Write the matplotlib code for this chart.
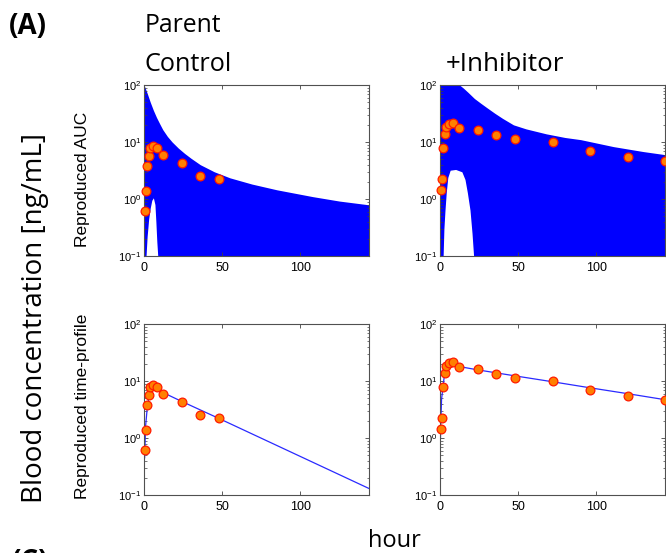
import matplotlib
matplotlib.use('Agg')
import matplotlib.pyplot as plt
from matplotlib.ticker import FixedLocator, FixedFormatter, LogLocator, NullFormatter

plt.rcParams['font.family'] = ['Liberation Sans', 'DejaVu Sans']
plt.rcParams['mathtext.default'] = 'regular'

# ---- observed concentrations (orange dots) ----
t_ctrl = [0.5, 1, 2, 3, 4, 6, 8, 12, 24, 36, 48]
c_ctrl = [0.61, 1.4, 3.8, 5.6, 7.7, 8.5, 7.8, 5.9, 4.3, 2.5, 2.2]
t_inh = [0.5, 1, 2, 3, 4, 6, 8, 12, 24, 36, 48, 72, 96, 120, 144]
c_inh = [1.44, 2.2, 7.8, 13.8, 18, 20.7, 21.2, 17.8, 16, 13.3, 11.3, 10.1, 7.0, 5.5, 4.6]

# ---- envelope of simulated curves (Reproduced AUC) ----
env_t_ctrl = [0, 2, 4, 6, 8, 10, 12, 15, 18, 22, 26, 30, 36, 45, 55, 69, 85, 108, 125, 144]
env_v_ctrl = [100, 72, 50, 36, 27, 21, 16.5, 12.5, 10, 7.8, 6.3, 5.2, 4.0, 3.0, 2.35, 1.83, 1.45, 1.1, 0.92, 0.79]
hole_t_ctrl = [1.3, 2, 3, 4, 5, 6, 7, 7.6, 8.2, 8.8]
hole_v_ctrl = [0.1, 0.22, 0.45, 0.7, 0.95, 1.05, 0.8, 0.4, 0.18, 0.1]

env_t_inh = [0, 12.5, 15, 18, 22, 26, 30, 35, 40, 47, 55, 68, 80, 90, 111, 130, 144]
env_v_inh = [100, 100, 88, 74, 58, 48, 40, 32, 26, 20, 17, 13.9, 12, 11, 8.3, 6.8, 6.0]
hole_t_inh = [2.0, 2.5, 3.2, 4, 5, 6.5, 10, 14, 16, 17.5, 19.2, 20.5, 21.5]
hole_v_inh = [0.1, 0.3, 0.64, 1.3, 2.4, 3.2, 3.3, 3.0, 2.2, 1.3, 0.64, 0.25, 0.1]

# ---- fitted profile (Reproduced time-profile) ----
fit_t_ctrl = [0.4, 1, 2, 3, 4, 6, 8, 12, 24, 48, 144]
fit_v_ctrl = [0.45, 1.6, 3.2, 5.0, 6.1, 7.0, 7.1, 6.3, 4.4, 2.2, 0.13]
fit_t_inh = [0.3, 0.5, 1, 2, 3, 4, 6, 8, 12, 24, 48, 72, 96, 120, 144]
fit_v_inh = [1.0, 1.8, 4.8, 8.2, 14, 17, 18.7, 18.8, 18.0, 15.7, 12.3, 9.7, 7.6, 6.0, 4.7]

x_ticks = [0, 50, 100]
x_ticklabels = ['0', '50', '100']
y_ticks = [0.1, 1, 10, 100]
y_ticklabels = ['$10^{-1}$', '$10^{0}$', '$10^{1}$', '$10^{2}$']

W, H = 666, 553
fig = plt.figure(figsize=(W / 100, H / 100), dpi=100)


def px_axes(x0, y0, x1, y1):
    return fig.add_axes([x0 / W, 1 - y1 / H, (x1 - x0) / W, (y1 - y0) / H])


def style(ax):
    ax.set_yscale('log')
    ax.set_xlim(0, 144)
    ax.set_ylim(0.1, 100)
    ax.xaxis.set_major_locator(FixedLocator(x_ticks))
    ax.xaxis.set_major_formatter(FixedFormatter(x_ticklabels))
    ax.yaxis.set_major_locator(FixedLocator(y_ticks))
    ax.yaxis.set_major_formatter(FixedFormatter(y_ticklabels))
    ax.yaxis.set_minor_locator(LogLocator(base=10, subs=range(2, 10)))
    ax.yaxis.set_minor_formatter(NullFormatter())
    ax.tick_params(which='both', direction='in', top=True, right=True,
                   colors='#404040', labelcolor='black')
    ax.tick_params(which='major', length=3, width=0.6)
    ax.tick_params(which='minor', length=1.8, width=0.5)
    ax.tick_params(axis='x', labelsize=9, pad=4)
    ax.tick_params(axis='y', labelsize=8, pad=2)
    for s in ax.spines.values():
        s.set_color('#505050')
        s.set_linewidth(0.8)
        s.set_zorder(5)


ax1 = px_axes(144, 85, 369, 256)
ax2 = px_axes(440, 85, 665, 256)
ax3 = px_axes(144, 324, 369, 495)
ax4 = px_axes(440, 324, 665, 495)

mk = dict(marker='o', ls='none', ms=6.3, mfc='#ff8000', mec='#ff1a00', mew=0.9,
          zorder=6, clip_on=False)

for ax, et, ev, ht, hv, tt, cc in [
        (ax1, env_t_ctrl, env_v_ctrl, hole_t_ctrl, hole_v_ctrl, t_ctrl, c_ctrl),
        (ax2, env_t_inh, env_v_inh, hole_t_inh, hole_v_inh, t_inh, c_inh)]:
    style(ax)
    ax.fill_between(et, ev, 0.01, color='#0000ff', lw=0, zorder=1)
    ax.fill_between(ht, hv, 0.01, color='white', lw=0, zorder=2)
    ax.plot(tt, cc, **mk)

for ax, ft, fv, tt, cc in [(ax3, fit_t_ctrl, fit_v_ctrl, t_ctrl, c_ctrl),
                           (ax4, fit_t_inh, fit_v_inh, t_inh, c_inh)]:
    style(ax)
    ax.plot(ft, fv, color='#2a2aff', lw=0.9, zorder=3)
    ax.plot(tt, cc, **mk)


def ftext(x, y, s, **kw):
    fig.text(x / W, 1 - y / H, s, **kw)


big = ['Open Sans', 'DejaVu Sans']
ftext(9, 34, '(A)', fontsize=20, fontweight='bold', family=big, va='baseline')
ftext(145, 32, 'Parent', fontsize=17.8, family=big, va='baseline')
ftext(145, 71, 'Control', fontsize=18.2, family=big, va='baseline')
ftext(446, 71, '+Inhibitor', fontsize=18.6, family=big, va='baseline')
ftext(35, 318, 'Blood concentration [ng/mL]', fontsize=20, family=big,
      rotation=90, ha='center', va='center')
ftext(394, 547, 'hour', fontsize=17, family=big, ha='center', va='baseline')
ftext(12, 548, '(C)', fontsize=20, fontweight='bold', family=big, va='top')
ftext(83, 179, 'Reproduced AUC', fontsize=12.5, rotation=90, ha='center', va='center')
ftext(82, 406, 'Reproduced time-profile', fontsize=12.5, rotation=90, ha='center', va='center')

fig.savefig('out.png', dpi=100)
